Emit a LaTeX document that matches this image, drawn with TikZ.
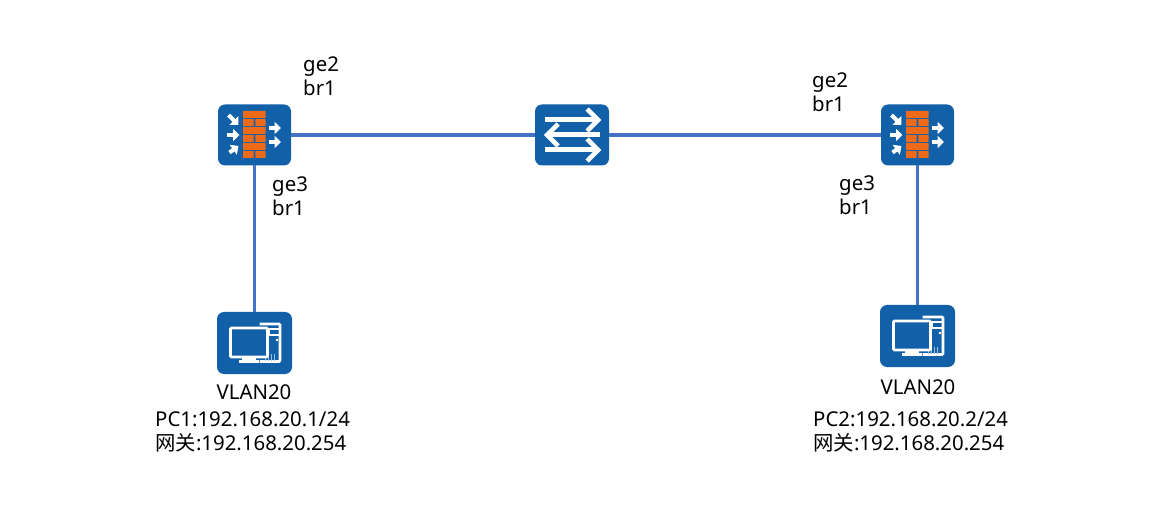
\documentclass[tikz,border=0pt]{standalone}
\usepackage{fontspec}
\setmainfont{Noto Sans}
\newfontfamily\cjk{Noto Sans CJK SC}
\usetikzlibrary{arrows.meta}
\definecolor{devblue}{HTML}{1160A8}
\definecolor{linkblue}{HTML}{4472C4}
\definecolor{brick}{HTML}{ED6A1A}
\definecolor{towerblue}{HTML}{9DBFE0}
\tikzset{
  x=1pt,y=-1pt,
  device/.style={fill=devblue,draw=none,rounded corners=7pt,inner sep=0pt,outer sep=0pt,minimum width=#1,minimum height=61pt},
  link/.style={draw=linkblue,line width=3.4pt},
  lbl/.style={align=left,anchor=north west,inner sep=0pt,font=\fontsize{20.4}{23.8}\selectfont,text=black},
  lblc/.style={align=center,anchor=north,inner sep=0pt,font=\fontsize{20.4}{23.8}\selectfont,text=black},
  whitearrow/.style={draw=white,line width=4pt,-{Triangle[length=6.5pt,width=12pt,fill=white]}},
  brickrect/.style={fill=brick,draw=none,rounded corners=0.4pt},
  swline/.style={draw=white,line width=5pt},
  swhead/.style={draw=white,line width=4.6pt,line cap=butt,line join=miter},
  pcline/.style={draw=white,line width=2.8pt,rounded corners=1pt},
  pcthin/.style={draw=white,line width=1.1pt}
}
\newcommand{\fwicon}[2]{%
  \begin{scope}[shift={(#1,#2)}]
    \foreach \t in {-24,-8,8}{\fill[brickrect] (-11.5,\t) rectangle (11,\t+6.8);}
    \foreach \t in {-16,0,16}{
      \fill[brickrect] (-11.5,\t) rectangle (-0.8,\t+6.8);
      \fill[brickrect] (0.8,\t) rectangle (11,\t+6.8);}
    \draw[whitearrow] (-26,-20) -- (-16,-10);
    \draw[whitearrow] (-27.5,0) -- (-15,0);
    \draw[whitearrow] (-25,17.5) -- (-16,11);
    \draw[whitearrow] (14.5,-7) -- (26.5,-7);
    \draw[whitearrow] (14.5,7) -- (26.5,7);
  \end{scope}}
\newcommand{\swicon}[2]{%
  \begin{scope}[shift={(#1,#2)}]
    \draw[swline] (-27,-15) -- (26,-15);
    \draw[swhead] (15,-26) -- (26,-15) -- (15,-4);
    \draw[swline] (28,0) -- (-25,0);
    \draw[swhead] (-14,-11) -- (-25,0) -- (-14,11);
    \draw[swline] (-27,15) -- (26,15);
    \draw[swhead] (15,4) -- (26,15) -- (15,26);
  \end{scope}}
\newcommand{\pcicon}[2]{%
  \begin{scope}[shift={(#1,#2)}]
    % tower
    \draw[pcline,fill=devblue] (5,-19) -- (25.5,-19) -- (25.5,18.5) -- (5,18.5);
    \draw[pcthin] (14.5,-14) rectangle (25,-8);
    \fill[white] (22.5,-3) circle (1.4pt);
    \foreach \x in {11,14,17,20}{\draw[line width=1.2pt,draw=towerblue] (\x,18) -- (\x,11);}
    % monitor
    \draw[pcline,fill=devblue] (-24,-15) rectangle (13,14);
    \fill[white] (-13,14) rectangle (1,17);
    \fill[white] (-16,17) rectangle (4,20);
  \end{scope}}
\begin{document}
\begin{tikzpicture}
  \useasboundingbox (0,0) rectangle (1150,518);
  \node[device=73pt] (fw1) at (254.5,135) {};
  \node[device=74pt] (sw) at (572,135) {};
  \node[device=73pt] (fw2) at (917.5,135) {};
  \node[device=75pt,minimum height=62pt] (pc1) at (254.5,343) {};
  \node[device=75pt,minimum height=62pt] (pc2) at (917.5,336) {};
  \draw[link] (fw1) -- (sw);
  \draw[link] (sw) -- (fw2);
  \draw[link] (fw1) -- (pc1);
  \draw[link] (fw2) -- (pc2);
  \fwicon{254.5}{135}
  \fwicon{917.5}{135}
  \swicon{572}{135}
  \pcicon{254.5}{343}
  \pcicon{917.5}{336}
  \node[lbl] (l1) at (303,57) {ge2\\br1};
  \node[lbl] (l2) at (272,177) {ge3\\br1};
  \node[lbl] (l3) at (812,73) {ge2\\br1};
  \node[lbl] (l4) at (839,176) {ge3\\br1};
  \node[lblc] (v1) at (254,385) {VLAN20};
  \node[lblc] (v2) at (918,380) {VLAN20};
  \node[lbl] (a1) at (155,412) {PC1:192.168.20.1/24\\{\cjk 网关}:192.168.20.254};
  \node[lbl] (a2) at (813,412) {PC2:192.168.20.2/24\\{\cjk 网关}:192.168.20.254};
\end{tikzpicture}
\end{document}
